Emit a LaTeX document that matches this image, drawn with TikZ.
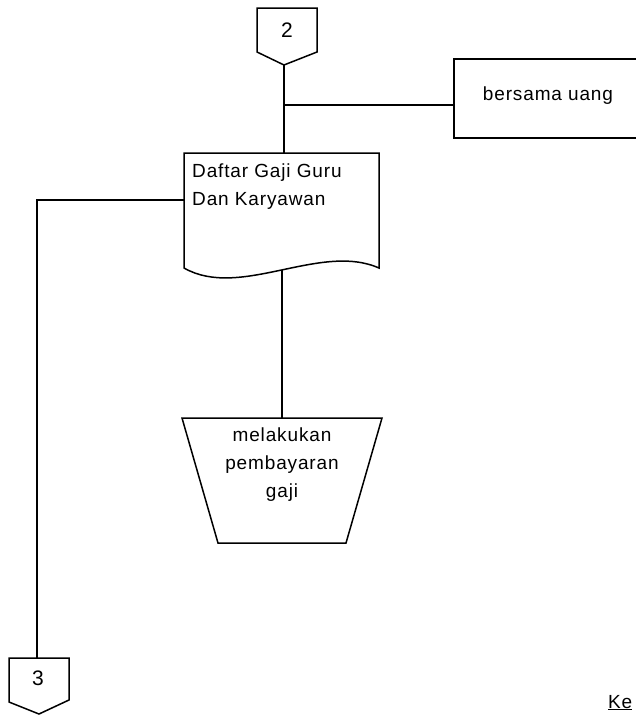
\documentclass[tikz,border=0pt]{standalone}
\usepackage{fontspec}
\setmainfont{Liberation Sans}[LetterSpace=4.5]
\tikzset{
  lbl/.style={inner sep=0pt, font=\fontsize{19}{28}\selectfont},
  ln/.style={line width=1.5pt, line join=miter}
}
\begin{document}
\begin{tikzpicture}[x=1pt,y=-1pt]
\useasboundingbox (0,0) rectangle (636,715);
% off-page connector 2
\draw[ln] (257,8) -- (317,8) -- (317,52) -- (284,65) -- (257,52) -- cycle;
\coordinate (c2) at (284,65);
\node[lbl, font=\fontsize{21}{28}\selectfont] (n2) at (287,30) {2};
% box bersama uang
\node[ln, draw, rectangle, minimum width=190pt, minimum height=79pt, anchor=north west, inner sep=0pt] (box) at (453,58) {};
\node[lbl] (t1) at (548,96) {bersama uang};
% document
\draw[ln] (184,153) -- (379,153) -- (379,268) .. controls (320,242) and (240,300) .. (184,268) -- cycle;
\coordinate (doctop) at (284,153);
\coordinate (docb) at (282,270);
\coordinate (docl) at (184,200);
\node[lbl, align=left, anchor=north west] (doc) at (192,164) {Daftar Gaji Guru\\Dan Karyawan};
% trapezoid manual operation
\draw[ln] (182,418) -- (382,418) -- (346,543) -- (218,543) -- cycle;
\coordinate (trtop) at (282,418);
\node[lbl, align=center] (t2) at (282,465) {melakukan\\pembayaran\\gaji};
% off-page connector 3
\draw[ln] (9,658) -- (69,658) -- (69,700) -- (39,714) -- (9,702) -- cycle;
\coordinate (c3) at (37,658);
\node[lbl, font=\fontsize{21}{28}\selectfont] (n3) at (38,678) {3};
% connectors
\coordinate (j) at (284,105);
\draw[ln] (c2) -- (doctop);
\draw[ln] (j) -- (j -| box.west);
\draw[ln] (docb) -- (trtop);
\draw[ln] (docl) -| (c3);
% Ke
\node[lbl, anchor=base west] (ke) at (608,708) {\underline{Ke}};
\end{tikzpicture}
\end{document}
